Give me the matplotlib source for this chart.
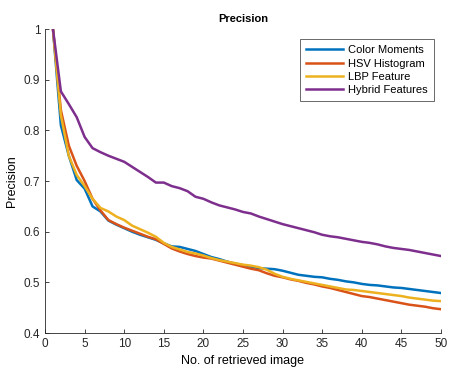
import numpy as np
import matplotlib
matplotlib.use('Agg')
import matplotlib.pyplot as plt

plt.rcParams['font.family'] = ['Liberation Sans', 'DejaVu Sans']

# retrieved image count
n_images = np.arange(1, 51)

color_moments = [1.0, 0.81, 0.75, 0.702, 0.685, 0.650, 0.640, 0.622, 0.614, 0.607,
                 0.600, 0.594, 0.589, 0.584, 0.577, 0.571, 0.570, 0.566, 0.562, 0.556,
                 0.550, 0.546, 0.541, 0.537, 0.534, 0.531, 0.528, 0.527, 0.526, 0.523,
                 0.519, 0.515, 0.513, 0.511, 0.510, 0.507, 0.505, 0.502, 0.500, 0.497,
                 0.495, 0.494, 0.492, 0.490, 0.489, 0.487, 0.485, 0.483, 0.481, 0.479]

hsv_histogram = [1.0, 0.84, 0.77, 0.730, 0.700, 0.665, 0.642, 0.623, 0.615, 0.608,
                 0.602, 0.596, 0.590, 0.585, 0.576, 0.567, 0.561, 0.556, 0.552, 0.549,
                 0.547, 0.543, 0.539, 0.535, 0.531, 0.527, 0.524, 0.518, 0.513, 0.510,
                 0.506, 0.503, 0.499, 0.496, 0.492, 0.489, 0.485, 0.481, 0.477, 0.473,
                 0.471, 0.468, 0.465, 0.462, 0.459, 0.456, 0.454, 0.452, 0.449, 0.447]

lbp_feature = [1.0, 0.83, 0.75, 0.712, 0.690, 0.665, 0.647, 0.640, 0.630, 0.623,
               0.612, 0.605, 0.598, 0.590, 0.578, 0.570, 0.565, 0.560, 0.557, 0.553,
               0.548, 0.544, 0.541, 0.538, 0.535, 0.533, 0.530, 0.525, 0.517, 0.511,
               0.507, 0.504, 0.501, 0.498, 0.495, 0.492, 0.489, 0.486, 0.485, 0.483,
               0.481, 0.479, 0.477, 0.475, 0.473, 0.470, 0.468, 0.466, 0.464, 0.463]

hybrid_features = [1.0, 0.877, 0.852, 0.826, 0.787, 0.765, 0.757, 0.750, 0.744, 0.738,
                   0.728, 0.718, 0.708, 0.697, 0.697, 0.690, 0.686, 0.680, 0.669, 0.665,
                   0.658, 0.652, 0.648, 0.644, 0.639, 0.636, 0.630, 0.625, 0.620, 0.615,
                   0.611, 0.607, 0.603, 0.599, 0.594, 0.591, 0.589, 0.586, 0.583, 0.580,
                   0.578, 0.575, 0.571, 0.568, 0.566, 0.564, 0.561, 0.558, 0.555, 0.552]

series = [
    ('Color Moments', color_moments, (0.0, 0.447, 0.741)),
    ('HSV Histogram', hsv_histogram, (0.85, 0.325, 0.098)),
    ('LBP Feature', lbp_feature, (0.929, 0.694, 0.125)),
    ('Hybrid Features', hybrid_features, (0.494, 0.184, 0.556)),
]

fig = plt.figure(figsize=(4.55, 3.68), dpi=100)
ax = fig.add_axes([0.099, 0.095, 0.870, 0.826])

for name, vals, col in series:
    ax.plot(n_images, vals, color=col, linewidth=1.8, label=name)

ax.set_xlim(0, 50)
ax.set_ylim(0.4, 1.0)
ax.set_xticks(np.arange(0, 51, 5))
ax.set_yticks([0.4, 0.5, 0.6, 0.7, 0.8, 0.9, 1.0])
ax.set_yticklabels(['0.4', '0.5', '0.6', '0.7', '0.8', '0.9', '1'])

axis_col = '#262626'
for side in ['top', 'right']:
    ax.spines[side].set_visible(False)
for side in ['left', 'bottom']:
    ax.spines[side].set_color(axis_col)
    ax.spines[side].set_linewidth(0.6)
ax.tick_params(direction='in', length=3, width=0.6, colors=axis_col, labelsize=8.5)

ax.set_title('Precision', fontsize=8, fontweight='bold', pad=5)
ax.set_xlabel('No. of retrieved image', fontsize=9, labelpad=3.5)
ax.set_ylabel('Precision', fontsize=9, labelpad=4)

leg = ax.legend(loc='upper right', bbox_to_anchor=(0.996, 0.985), fontsize=8,
                handlelength=3.3, frameon=True, fancybox=False, borderpad=0.55,
                labelspacing=0.3, handletextpad=0.45)
leg.get_frame().set_edgecolor(axis_col)
leg.get_frame().set_linewidth(0.6)

fig.savefig('out.png', dpi=100)
